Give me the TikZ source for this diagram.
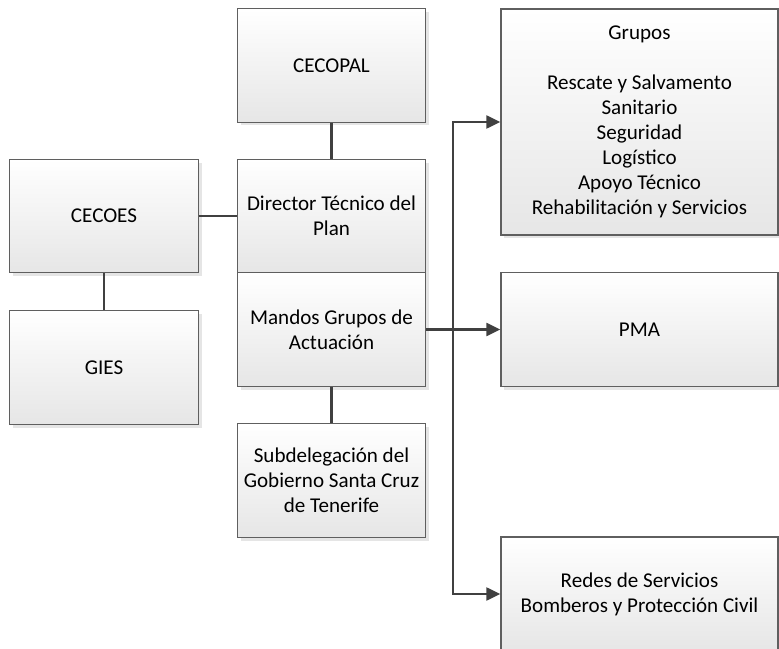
\documentclass[tikz,border=0pt]{standalone}
\usepackage{fontspec}
\setmainfont{Carlito}
\usetikzlibrary{arrows.meta,shadows}
\definecolor{linec}{RGB}{64,64,64}
\definecolor{borderc}{RGB}{95,95,95}
\definecolor{boxbot}{RGB}{230,230,230}
\tikzset{
  box/.style={rectangle, draw=borderc, line width=0.8pt, top color=white, bottom color=boxbot,
    drop shadow={shadow xshift=2.5pt, shadow yshift=-2.5pt, fill=black!10, opacity=1},
    align=center, inner sep=0pt,
    font=\fontsize{15.8}{18.8}\selectfont},
  smallbox/.style={box, minimum width=141.5pt, minimum height=85pt},
  conn/.style={draw=linec, line width=2.1pt},
  arr/.style={conn, -{Triangle[length=10.5pt,width=9.5pt]}}
}
\begin{document}
\begin{tikzpicture}[x=0.75pt,y=-0.75pt]
\useasboundingbox (0,0) rectangle (779,649);
\node[smallbox] (cecoes) at (104,216) {CECOES};
\node[smallbox] (gies) at (104,367.5) {GIES};
\node[smallbox] (cecopal) at (331.5,65.5) {CECOPAL};
\node[smallbox] (director) at (331.5,216) {Director Técnico del\\Plan};
\node[smallbox] (mandos) at (331.5,329.5) {Mandos Grupos de\\Actuación};
\node[smallbox] (subdel) at (331.5,480.5) {Subdelegación del\\Gobierno Santa Cruz\\de Tenerife};
\node[box, minimum width=207.75pt, minimum height=169.5pt] (grupos) at (639.5,122)
  {Grupos\\[18.8pt]Rescate y Salvamento\\Sanitario\\Seguridad\\Logístico\\Apoyo Técnico\\Rehabilitación y Servicios};
\node[box, minimum width=207.75pt, minimum height=85pt] (pma) at (639.5,329.5) {PMA};
\node[box, minimum width=207.75pt, minimum height=85.5pt] (redes) at (639.5,594)
  {Redes de Servicios\\Bomberos y Protección Civil};
\coordinate (split) at (453,329.5);
\draw[conn] (cecoes.east) -- (director.west);
\draw[conn] (cecoes.south) -- (gies.north);
\draw[conn] (cecopal.south) -- (director.north);
\draw[conn] (mandos.south) -- (subdel.north);
\draw[arr] (mandos.east) -- (pma.west);
\draw[arr] (split) |- (grupos.west);
\draw[arr] (split) |- (redes.west);
\end{tikzpicture}
\end{document}
